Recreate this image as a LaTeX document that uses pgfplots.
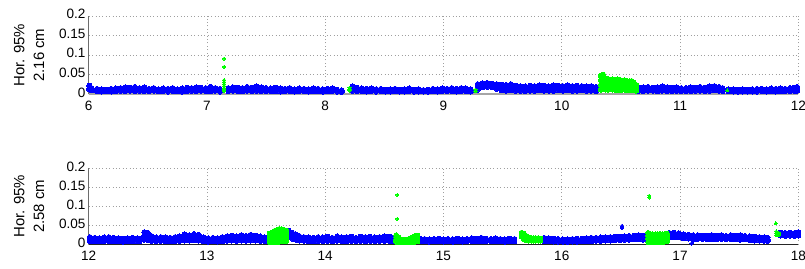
\documentclass[border=0pt]{standalone}
\usepackage{pgfplots}
\pgfplotsset{compat=1.18}
\usepackage{pgfplotstable}
\usepackage{fontspec}
\setmainfont{Liberation Sans}
\definecolor{mblue}{RGB}{0,0,255}
\definecolor{mgreen}{RGB}{0,255,0}

% ---------- top panel (6-12 h) ----------
\pgfplotstableread{
x lo mid hi
6.005 .012 .016 .022
6.025 .010 .013 .016
6.07 .008 .011 .014
6.11 .007 .010 .013
6.15 .008 .011 .012
6.19 .007 .010 .014
6.23 .008 .011 .015
6.27 .009 .012 .016
6.31 .008 .012 .018
6.35 .009 .013 .017
6.39 .008 .012 .019
6.43 .009 .012 .016
6.47 .008 .012 .018
6.51 .008 .011 .014
6.55 .009 .012 .016
6.59 .008 .011 .013
6.63 .008 .011 .015
6.67 .007 .010 .014
6.71 .008 .011 .016
6.75 .008 .011 .013
6.79 .007 .011 .015
6.83 .008 .012 .017
6.87 .009 .012 .016
6.91 .008 .012 .018
6.95 .009 .013 .017
6.99 .008 .012 .016
7.03 .008 .012 .019
7.07 .009 .012 .016
7.11 .007 .010 .014
7.18 .008 .012 .016
7.22 .009 .013 .018
7.26 .008 .012 .017
7.30 .008 .012 .016
7.34 .009 .013 .019
7.38 .008 .012 .017
7.42 .009 .013 .020
7.46 .008 .012 .018
7.50 .008 .012 .016
7.54 .008 .011 .015
7.58 .008 .012 .017
7.62 .007 .011 .015
7.66 .008 .011 .014
7.70 .008 .012 .016
7.74 .007 .010 .013
7.78 .008 .011 .015
7.82 .008 .011 .014
7.86 .007 .010 .013
7.90 .008 .011 .015
7.94 .008 .011 .014
7.98 .007 .010 .013
8.02 .008 .011 .014
8.06 .008 .011 .015
8.10 .007 .010 .012
8.14 .006 .008 .010
8.23 .009 .014 .020
8.27 .008 .012 .017
8.31 .008 .012 .015
8.35 .007 .011 .014
8.39 .008 .011 .015
8.43 .007 .010 .013
8.47 .008 .011 .014
8.51 .007 .010 .012
8.55 .007 .010 .013
8.59 .008 .011 .014
8.63 .007 .010 .012
8.67 .007 .010 .013
8.71 .008 .011 .015
8.75 .007 .010 .012
8.79 .007 .010 .013
8.83 .007 .009 .011
8.87 .007 .010 .012
8.91 .008 .011 .014
8.95 .007 .010 .013
8.99 .008 .011 .015
9.03 .008 .011 .014
9.07 .008 .012 .016
9.11 .007 .011 .014
9.15 .008 .012 .016
9.19 .008 .011 .015
9.23 .007 .010 .013
9.29 .012 .019 .026
9.33 .018 .023 .028
9.37 .019 .024 .029
9.41 .018 .023 .027
9.45 .014 .020 .026
9.49 .010 .017 .025
9.53 .009 .016 .024
9.57 .010 .017 .026
9.61 .009 .015 .022
9.65 .009 .015 .021
9.69 .008 .014 .020
9.73 .009 .015 .022
9.77 .009 .015 .021
9.81 .010 .016 .023
9.85 .009 .015 .022
9.89 .009 .015 .020
9.93 .009 .016 .023
9.97 .010 .016 .022
10.01 .009 .015 .021
10.05 .010 .016 .023
10.09 .009 .015 .021
10.13 .009 .015 .022
10.17 .010 .016 .021
10.21 .009 .015 .020
10.25 .009 .014 .021
10.29 .008 .013 .019
10.65 .009 .013 .018
10.69 .008 .013 .018
10.73 .009 .014 .019
10.77 .009 .013 .017
10.81 .008 .013 .018
10.85 .009 .014 .020
10.89 .008 .013 .018
10.93 .008 .012 .017
10.97 .009 .013 .018
11.01 .008 .012 .016
11.05 .008 .012 .016
11.09 .008 .013 .018
11.13 .009 .013 .017
11.17 .009 .014 .019
11.21 .008 .013 .017
11.25 .009 .014 .020
11.29 .010 .015 .021
11.33 .009 .014 .019
11.36 .008 .012 .016
11.41 .008 .011 .013
11.45 .007 .010 .013
11.49 .007 .010 .012
11.53 .007 .010 .013
11.57 .007 .010 .012
11.61 .007 .010 .013
11.65 .007 .010 .014
11.69 .008 .011 .014
11.73 .007 .010 .013
11.77 .008 .011 .015
11.81 .007 .011 .014
11.85 .008 .011 .015
11.89 .008 .011 .014
11.93 .008 .012 .016
11.97 .008 .012 .017
11.99 .009 .013 .019
}\topblue

\pgfplotstableread{
x lo ma mb hi
10.33 .012 .024 .036 .048
10.35 .013 .025 .037 .050
10.37 .012 .021 .030 .040
10.39 .012 .021 .030 .039
10.41 .013 .021 .029 .037
10.43 .012 .021 .030 .038
10.45 .012 .020 .028 .036
10.47 .011 .020 .029 .038
10.49 .011 .020 .029 .037
10.51 .012 .020 .028 .035
10.53 .012 .020 .028 .036
10.55 .011 .019 .027 .034
10.57 .011 .019 .026 .033
10.59 .010 .018 .026 .034
10.61 .010 .017 .024 .030
10.63 .009 .014 .019 .024
}\topgreen

\pgfplotstableread{
x y
7.145 0.091
7.145 0.070
7.145 0.036
7.145 0.031
7.145 0.026
7.145 0.021
7.145 0.016
7.145 0.012
7.145 0.008
8.205 0.009
8.205 0.013
8.205 0.017
9.270 0.008
9.270 0.012
11.400 0.010
}\topgreenpts

% ---------- bottom panel (12-18 h) ----------
\pgfplotstableread{
x lo mid hi
12.01 .008 .013 .019
12.05 .008 .013 .017
12.09 .008 .012 .016
12.13 .008 .013 .018
12.17 .008 .013 .019
12.21 .008 .012 .017
12.25 .008 .012 .016
12.29 .007 .011 .015
12.33 .008 .012 .016
12.37 .008 .012 .017
12.41 .008 .012 .016
12.43 .008 .011 .015
12.47 .012 .022 .032
12.50 .011 .020 .030
12.53 .009 .015 .022
12.57 .008 .013 .018
12.61 .009 .014 .019
12.65 .008 .013 .018
12.69 .008 .013 .017
12.73 .008 .013 .019
12.77 .009 .015 .021
12.81 .010 .017 .026
12.85 .010 .017 .024
12.89 .011 .018 .027
12.93 .010 .017 .025
12.97 .008 .013 .018
13.01 .007 .012 .016
13.05 .008 .012 .017
13.09 .007 .012 .016
13.13 .008 .013 .019
13.17 .009 .015 .021
13.21 .010 .016 .023
13.25 .009 .015 .021
13.29 .010 .016 .024
13.33 .009 .015 .022
13.37 .010 .017 .025
13.41 .010 .016 .023
13.45 .009 .015 .021
13.49 .008 .013 .018
13.69 .018 .027 .036
13.72 .015 .023 .031
13.75 .012 .019 .026
13.78 .010 .016 .022
13.82 .009 .014 .019
13.86 .008 .013 .018
13.90 .008 .013 .017
13.94 .008 .013 .019
13.98 .008 .013 .018
14.02 .009 .014 .020
14.06 .008 .013 .017
14.10 .009 .014 .021
14.14 .008 .013 .018
14.18 .008 .013 .019
14.22 .009 .014 .020
14.26 .008 .013 .017
14.30 .009 .014 .020
14.34 .008 .013 .019
14.38 .009 .014 .020
14.42 .008 .013 .018
14.46 .009 .014 .019
14.50 .009 .014 .021
14.54 .009 .014 .020
14.56 .008 .013 .018
14.80 .008 .011 .015
14.84 .008 .011 .014
14.88 .007 .010 .013
14.92 .008 .011 .014
14.96 .008 .011 .015
15.00 .007 .010 .013
15.04 .008 .011 .014
15.08 .007 .010 .013
15.12 .008 .011 .015
15.16 .007 .010 .013
15.20 .008 .011 .014
15.24 .008 .012 .016
15.28 .008 .011 .015
15.32 .008 .012 .017
15.36 .008 .011 .015
15.40 .008 .011 .014
15.44 .008 .012 .016
15.48 .008 .011 .014
15.52 .007 .010 .013
15.56 .008 .011 .015
15.60 .008 .011 .014
15.85 .008 .012 .017
15.89 .008 .012 .016
15.93 .007 .011 .015
15.97 .007 .010 .014
16.01 .007 .010 .013
16.05 .006 .010 .013
16.09 .007 .010 .014
16.13 .007 .011 .015
16.17 .008 .011 .015
16.21 .008 .012 .016
16.25 .008 .012 .017
16.29 .009 .013 .017
16.33 .009 .013 .018
16.37 .010 .014 .018
16.41 .010 .014 .019
16.45 .011 .015 .020
16.49 .011 .015 .020
16.53 .012 .016 .021
16.57 .012 .017 .022
16.61 .013 .018 .023
16.65 .013 .018 .024
16.69 .012 .017 .023
16.91 .018 .024 .030
16.95 .019 .025 .031
16.99 .018 .024 .029
17.03 .016 .021 .026
17.07 .015 .020 .025
17.11 .012 .018 .024
17.15 .014 .019 .024
17.19 .014 .019 .023
17.23 .013 .018 .023
17.27 .014 .019 .024
17.31 .013 .018 .023
17.35 .014 .019 .024
17.39 .013 .018 .022
17.43 .014 .019 .024
17.47 .013 .018 .023
17.51 .012 .018 .024
17.55 .013 .018 .022
17.59 .011 .016 .021
17.63 .010 .015 .020
17.67 .010 .015 .019
17.71 .009 .014 .018
17.74 .009 .013 .017
17.85 .023 .027 .031
17.89 .022 .026 .030
17.93 .023 .027 .031
17.97 .022 .026 .030
18.00 .023 .027 .032
}\botblue

\pgfplotstableread{
x y
16.51 0.048
16.51 0.043
17.10 0.003
}\botbluepts

\pgfplotstableread{
x lo ma mb hi
13.53 .006 .013 .020 .028
13.55 .006 .014 .022 .031
13.57 .006 .015 .024 .035
13.59 .007 .016 .026 .037
13.61 .007 .017 .028 .040
13.63 .008 .018 .029 .040
13.65 .009 .018 .028 .038
13.67 .009 .017 .026 .036
14.60 .007 .013 .019 .024
14.62 .006 .010 .014 .018
14.64 .006 .008 .011 .013
14.66 .006 .008 .010 .012
14.68 .006 .008 .010 .012
14.70 .006 .008 .011 .013
14.72 .006 .009 .012 .015
14.74 .006 .010 .014 .018
14.76 .007 .012 .017 .022
14.78 .008 .013 .018 .023
15.66 .020 .025 .030 .030
15.68 .014 .019 .024 .028
15.70 .011 .015 .019 .022
15.72 .010 .013 .016 .018
15.74 .010 .012 .014 .016
15.76 .010 .012 .014 .016
15.78 .010 .012 .014 .016
15.80 .010 .012 .014 .016
15.82 .010 .012 .014 .015
16.73 .006 .014 .022 .030
16.75 .006 .013 .020 .027
16.77 .006 .013 .020 .026
16.79 .006 .013 .020 .026
16.81 .006 .013 .020 .026
16.83 .006 .013 .020 .027
16.85 .006 .013 .020 .026
16.87 .007 .014 .021 .027
16.89 .008 .015 .022 .028
}\botgreen

\pgfplotstableread{
x y
14.61 0.130
14.61 0.067
16.74 0.128
16.74 0.123
17.81 0.055
17.815 0.034
17.815 0.029
17.815 0.024
17.835 0.030
17.835 0.025
}\botgreenpts

\pgfplotsset{
  panel/.style={
    scale only axis, width=709.6bp,
    ymin=0, ymax=0.2,
    ytick={0,0.05,0.1,0.15,0.2},
    yticklabels={0,0.05,0.1,0.15,0.2},
    grid=major,
    grid style={draw=gray!75, line width=0.7bp, dash pattern=on 0.8bp off 2.6bp},
    axis x line*=bottom, axis y line*=left,
    axis line style={-},
    y axis line style={draw=gray!85!black, line width=0.8bp},
    major tick length=0pt,
    tick style={draw=none},
    ticklabel style={font=\fontsize{13.6}{13.6}\selectfont},
    yticklabel style={inner sep=0pt, anchor=east, xshift=-3bp},
    xticklabel style={inner sep=0pt, anchor=north, yshift=-6.5bp},
    typeset ticklabels with strut=false,
    ylabel style={align=center, font=\fontsize{15}{20}\selectfont,
      at={(axis description cs:-0.084,0.5)}, anchor=center, inner sep=0pt},
    clip=false,
  },
  bl/.style={only marks, mark=*, color=mblue, mark size=2.5bp,
    mark options={draw=mblue, fill=mblue, line width=0pt}},
  gr/.style={only marks, mark=*, color=mgreen, mark size=2.5bp,
    mark options={draw=mgreen, fill=mgreen, line width=0pt}},
  grp/.style={only marks, mark=*, color=mgreen, mark size=1.6bp,
    mark options={draw=mgreen, fill=mgreen, line width=0pt}},
  blp/.style={only marks, mark=*, color=mblue, mark size=1.9bp,
    mark options={draw=mblue, fill=mblue, line width=0pt}},
}

\begin{document}
\begin{tikzpicture}
\path[use as bounding box] (0,0) rectangle (805bp,269bp);

\begin{axis}[panel, at={(88.7bp,174.7bp)}, anchor=south west,
  height=78.3bp, xmin=6, xmax=12,
  xtick={6,7,8,9,10,11,12}, xticklabels={6,7,8,9,10,11,12},
  x axis line style={draw=gray!70, line width=1.6bp},
  ylabel={Hor. 95\%\\2.16 cm}]
\addplot[bl] table[x=x,y=lo]{\topblue};
\addplot[bl] table[x=x,y=mid]{\topblue};
\addplot[bl] table[x=x,y=hi]{\topblue};
\addplot[gr] table[x=x,y=lo]{\topgreen};
\addplot[gr] table[x=x,y=ma]{\topgreen};
\addplot[gr] table[x=x,y=mb]{\topgreen};
\addplot[gr] table[x=x,y=hi]{\topgreen};
\addplot[grp] table[x=x,y=y]{\topgreenpts};
\end{axis}

\begin{axis}[panel, at={(88.7bp,24.7bp)}, anchor=south west,
  height=76bp, xmin=12, xmax=18,
  xtick={12,13,14,15,16,17,18}, xticklabels={12,13,14,15,16,17,18},
  x axis line style={draw=black!85, line width=0.9bp},
  ylabel={Hor. 95\%\\2.58 cm}]
\addplot[bl] table[x=x,y=lo]{\botblue};
\addplot[bl] table[x=x,y=mid]{\botblue};
\addplot[bl] table[x=x,y=hi]{\botblue};
\addplot[blp] table[x=x,y=y]{\botbluepts};
\addplot[gr] table[x=x,y=lo]{\botgreen};
\addplot[gr] table[x=x,y=ma]{\botgreen};
\addplot[gr] table[x=x,y=mb]{\botgreen};
\addplot[gr] table[x=x,y=hi]{\botgreen};
\addplot[grp] table[x=x,y=y]{\botgreenpts};
\end{axis}
\end{tikzpicture}
\end{document}
